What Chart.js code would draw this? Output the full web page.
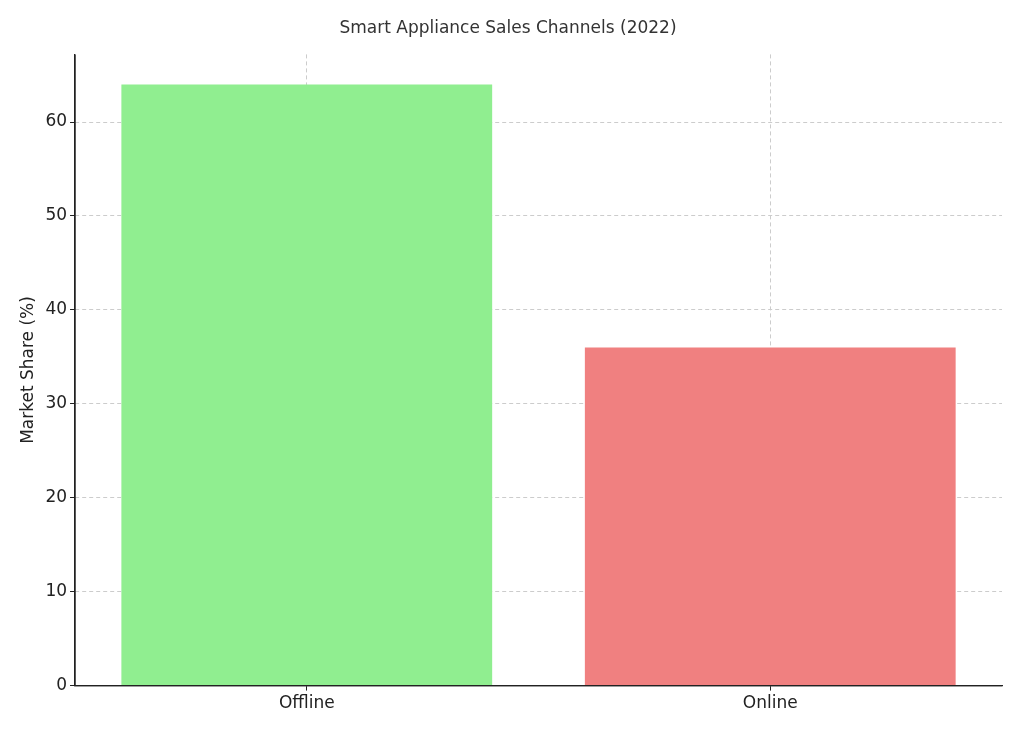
<!DOCTYPE html>
<html><head><meta charset="utf-8">
<script src="https://cdn.jsdelivr.net/npm/chart.js@4"></script>
<style>html,body{margin:0;background:#fff}#w{width:1024px;height:731px}</style>
</head><body><div id="w"><canvas id="c"></canvas></div>
<script>
const categories = ["Offline", "Online"];
const shares = [64, 36];
const colors = ["#90ee90", "#f08080"];
const yTicks = [0, 10, 20, 30, 40, 50, 60];
Chart.defaults.font.family = "DejaVu Sans";
Chart.defaults.color = "#222";
new Chart(document.getElementById('c'), {
  type: 'bar',
  data: { labels: categories, datasets: [{ data: shares, backgroundColor: colors, barPercentage: 0.8, categoryPercentage: 1 }] },
  options: {
    responsive: true, maintainAspectRatio: false, animation: false,
    layout: { padding: { left: 14, right: 22, top: 8, bottom: 14 } },
    plugins: { legend: { display: false }, tooltip: { enabled: false },
      title: { display: true, text: 'Smart Appliance Sales Channels (2022)', color: '#333', font: { size: 17, weight: 'normal' }, padding: { top: 10, bottom: 16 } } },
    scales: {
      x: { offset: true, grid: { offset: false, color: '#ccc', drawTicks: true, tickColor: '#222', tickLength: 5 },
           border: { color: '#222', dash: [4, 3], width: 1.2 },
           ticks: { font: { size: 17 }, color: '#222' } },
      y: { min: 0, max: 67.2, afterBuildTicks: ax => { ax.ticks = yTicks.map(v => ({ value: v })); },
           grid: { color: '#ccc', tickColor: '#222', tickLength: 5 },
           border: { color: '#222', dash: [4, 3], width: 1.2 },
           ticks: { font: { size: 17 }, color: '#222' },
           title: { display: true, text: 'Market Share (%)', font: { size: 17 }, color: '#222' } }
    }
  },
  plugins: [{ id: 'solidAxes', afterDraw(ch) {
    const { ctx, chartArea: a } = ch;
    ctx.save(); ctx.strokeStyle = '#222'; ctx.lineWidth = 1.3; ctx.setLineDash([]);
    ctx.beginPath(); ctx.moveTo(a.left, a.top); ctx.lineTo(a.left, a.bottom); ctx.lineTo(a.right, a.bottom); ctx.stroke();
    ctx.restore();
  } }]
});
</script></body></html>
